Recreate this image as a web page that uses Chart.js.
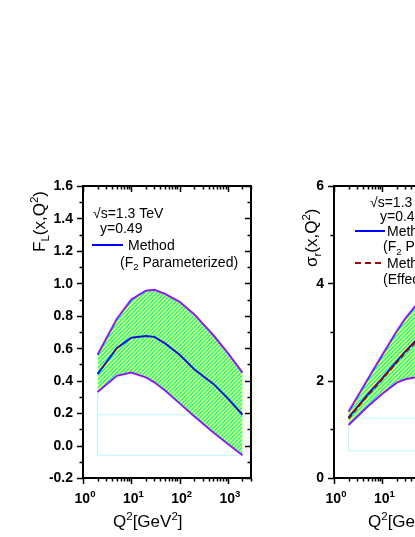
<!DOCTYPE html>
<html>
<head>
<meta charset="utf-8">
<script src="https://cdn.jsdelivr.net/npm/chart.js@4/dist/chart.umd.min.js"></script>
<style>
  html, body { margin: 0; padding: 0; background: #fff; }
  body { width: 415px; height: 537px; overflow: hidden; position: relative; }
  canvas { position: absolute; }
</style>
</head>
<body>
<canvas id="graficaFL" width="275" height="367" style="left:0px;top:170px;width:275px;height:367px"></canvas>
<canvas id="graficaSR" width="300" height="367" style="left:255px;top:170px;width:300px;height:367px"></canvas>
<script>
// Datos del panel izquierdo: F_L(x,Q^2)
const q2Izq = [2, 5, 10, 20, 30, 50, 100, 200, 500, 1000, 2000];
const flSuperior = [0.56, 0.78, 0.90, 0.955, 0.96, 0.935, 0.886, 0.81, 0.68, 0.57, 0.45];
const flCentral = [0.44, 0.60, 0.665, 0.675, 0.67, 0.63, 0.56, 0.47, 0.38, 0.29, 0.19];
const flInferior = [0.33, 0.43, 0.45, 0.42, 0.39, 0.34, 0.26, 0.18, 0.08, 0.01, -0.06];
const flMarcoArriba = 0.19;
const flMarcoAbajo = -0.06;

// Datos del panel derecho: sigma_r(x,Q^2)
const q2Der = [2, 5, 10, 20, 30, 50, 100];
const srSuperior = [1.36, 2.03, 2.53, 3.02, 3.28, 3.55, 3.95];
const srCentral = [1.24, 1.72, 2.05, 2.40, 2.60, 2.83, 3.05];
const srEfectivo = [1.22, 1.70, 2.03, 2.38, 2.58, 2.80, 3.00];
const srInferior = [1.09, 1.47, 1.73, 1.96, 2.03, 2.07, 2.05];
const srMarcoArriba = 1.23;
const srMarcoAbajo = 0.56;

// Ejes
const xMayores = [1, 10, 100, 1000];
const xExponentes = ['0', '1', '2', '3'];
const yIzqMayores = [-0.2, 0, 0.2, 0.4, 0.6, 0.8, 1.0, 1.2, 1.4, 1.6];
const yIzqMenores = [-0.1, 0.1, 0.3, 0.5, 0.7, 0.9, 1.1, 1.3, 1.5];
const yDerMayores = [0, 2, 4, 6];
const yDerMenores = [1, 3, 5];

const FAMILIA = 'Arial, "Liberation Sans", sans-serif';
const MORADO = '#8c1cf2';
const AZUL = '#1212d8';
const ROJO = '#9a0a0a';
const CIAN_PALIDO = '#bff7ff';

function puntos(xs, ys) {
    return xs.map((x, i) => ({ x, y: ys[i] }));
}

function rayado() {
    const c = document.createElement('canvas');
    c.width = 4; c.height = 4;
    const g = c.getContext('2d');
    for (let i = 0; i < 4; i++) {
        for (let j = 0; j < 4; j++) {
            g.fillStyle = ((i + j) % 4 < 2) ? '#ffff00' : '#00ffff';
            g.fillRect(i, j, 1, 1);
        }
    }
    return g.createPattern(c, 'repeat');
}

// Texto con subindices y superindices
function textoRico(ctx, partes, x, y, tam, negrita, alinear) {
    const fuente = s => `${negrita ? 'bold ' : ''}${s}px ${FAMILIA}`;
    let ancho = 0;
    partes.forEach(([t, k]) => {
        ctx.font = fuente(k ? tam * 0.68 : tam);
        ancho += ctx.measureText(t).width;
    });
    let cx = alinear === 'center' ? x - ancho / 2 : alinear === 'right' ? x - ancho : x;
    ctx.textAlign = 'left';
    ctx.textBaseline = 'alphabetic';
    partes.forEach(([t, k]) => {
        ctx.font = fuente(k ? tam * 0.68 : tam);
        const dy = k === 'sup' ? -tam * 0.4 : k === 'sub' ? tam * 0.25 : 0;
        ctx.fillText(t, cx, y + dy);
        cx += ctx.measureText(t).width;
    });
}

// Marco, marcas, etiquetas, titulos y leyenda
const marco = {
    id: 'marco',
    afterDraw(chart, _args, op) {
        const { ctx, chartArea: a } = chart;
        const x = chart.scales.x, y = chart.scales.y;
        ctx.save();
        ctx.strokeStyle = '#000';
        ctx.fillStyle = '#000';
        ctx.lineWidth = 1.5;
        ctx.beginPath();
        xMayores.forEach(d => {
            for (let k = 1; k <= 9; k++) {
                const v = d * k;
                if (v > x.max) continue;
                const px = Math.round(x.getPixelForValue(v)) + 0.5;
                const mayor = k === 1;
                ctx.moveTo(px, a.bottom); ctx.lineTo(px, a.bottom + (mayor ? 6 : 3.5));
                ctx.moveTo(px, a.top); ctx.lineTo(px, a.top + (mayor ? 6 : 3.5));
            }
        });
        op.yMayores.concat(op.yMenores).forEach(v => {
            const py = Math.round(y.getPixelForValue(v)) + 0.5;
            const l = op.yMayores.includes(v) ? 6 : 3.5;
            ctx.moveTo(a.left, py); ctx.lineTo(a.left - l, py);
            ctx.moveTo(a.right, py); ctx.lineTo(a.right - l, py);
        });
        ctx.stroke();
        ctx.lineWidth = 2;
        ctx.strokeRect(a.left, a.top, a.right - a.left, a.bottom - a.top);

        // Etiquetas del eje y
        ctx.font = `bold 14px ${FAMILIA}`;
        ctx.textAlign = 'right';
        ctx.textBaseline = 'middle';
        op.yMayores.forEach(v => {
            ctx.fillText(v.toFixed(op.decimales), a.left - 10, y.getPixelForValue(v) + 0.5);
        });
        // Etiquetas del eje x
        xMayores.forEach((v, i) => {
            textoRico(ctx, [['10', ''], [xExponentes[i], 'sup']], x.getPixelForValue(v) + 2, a.bottom + 25, 14, true, 'center');
        });
        // Titulos
        textoRico(ctx, [['Q', ''], ['2', 'sup'], ['[GeV', ''], ['2', 'sup'], [']', '']], a.left + op.tituloX, a.bottom + 49, 17, false, 'left');
        ctx.save();
        ctx.translate(a.left - op.tituloY[0], a.top + op.tituloY[1]);
        ctx.rotate(-Math.PI / 2);
        textoRico(ctx, op.partesY, 0, 0, 17, false, 'left');
        ctx.restore();

        // Leyenda
        op.leyenda.forEach(it => {
            if (it.linea) {
                ctx.strokeStyle = it.linea;
                ctx.lineWidth = 2;
                ctx.setLineDash(it.guion || []);
                ctx.beginPath();
                ctx.moveTo(a.left + it.x1, a.top + it.dy);
                ctx.lineTo(a.left + it.x2, a.top + it.dy);
                ctx.stroke();
                ctx.setLineDash([]);
            } else {
                ctx.fillStyle = '#000';
                textoRico(ctx, it.partes, a.left + it.dx, a.top + it.dy, 14, false, 'left');
            }
        });
        ctx.restore();
    }
};

function linea(datos, color, extra) {
    return Object.assign({
        data: datos,
        borderColor: color,
        borderWidth: 2,
        pointRadius: 0,
        tension: 0,
        fill: false
    }, extra);
}

function crearGrafica(id, cfg) {
    const ds = [];
    // 0 superior (con relleno hacia 1), 1 inferior, luego centrales y marco
    ds.push(linea(puntos(cfg.q2, cfg.superior), MORADO, { fill: 1, backgroundColor: rayado(), order: 5 }));
    ds.push(linea(puntos(cfg.q2, cfg.inferior), MORADO, { order: 4 }));
    ds.push(linea(puntos(cfg.q2, cfg.central), AZUL, { order: 2 }));
    if (cfg.efectivo) {
        ds.push(linea(puntos(cfg.q2, cfg.efectivo), ROJO, { borderDash: [5, 3], order: 1 }));
    }
    const q0 = cfg.q2[0], qf = 2000;
    ds.push(linea([{ x: q0, y: cfg.marco[0] }, { x: qf, y: cfg.marco[0] }], CIAN_PALIDO, { borderWidth: 1, order: 9 }));
    ds.push(linea([{ x: q0, y: cfg.inferior[0] }, { x: q0, y: cfg.marco[1] }, { x: qf, y: cfg.marco[1] }], CIAN_PALIDO, { borderWidth: 1, order: 9 }));

    return new Chart(document.getElementById(id), {
        type: 'line',
        data: { datasets: ds },
        plugins: [marco],
        options: {
            responsive: false,
            animation: false,
            devicePixelRatio: 1,
            layout: { padding: cfg.relleno },
            scales: {
                x: { type: 'logarithmic', min: 1, max: 3000, display: false },
                y: { type: 'linear', min: cfg.yMin, max: cfg.yMax, display: false }
            },
            plugins: {
                legend: { display: false },
                tooltip: { enabled: false },
                marco: cfg.marcoOp
            }
        }
    });
}

crearGrafica('graficaFL', {
    q2: q2Izq, superior: flSuperior, inferior: flInferior, central: flCentral,
    marco: [flMarcoArriba, flMarcoAbajo],
    yMin: -0.2, yMax: 1.6,
    relleno: { left: 83, top: 16, right: 24, bottom: 59 },
    marcoOp: {
        yMayores: yIzqMayores, yMenores: yIzqMenores, decimales: 1,
        tituloX: 30, tituloY: [38, 66],
        partesY: [['F', ''], ['L', 'sub'], ['(x,Q', ''], ['2', 'sup'], [')', '']],
        leyenda: [
            { partes: [['\u221As=1.3 TeV', '']], dx: 10, dy: 31.5 },
            { partes: [['y=0.49', '']], dx: 17, dy: 47 },
            { linea: '#0000ff', x1: 9, x2: 40, dy: 59 },
            { partes: [['Method', '']], dx: 45, dy: 64 },
            { partes: [['(F', ''], ['2', 'sub'], [' Parameterized)', '']], dx: 37, dy: 80.5 }
        ]
    }
});

crearGrafica('graficaSR', {
    q2: q2Der, superior: srSuperior, inferior: srInferior, central: srCentral, efectivo: srEfectivo,
    marco: [srMarcoArriba, srMarcoAbajo],
    yMin: 0, yMax: 6,
    relleno: { left: 79, top: 16, right: 53, bottom: 59 },
    marcoOp: {
        yMayores: yDerMayores, yMenores: yDerMenores, decimales: 0,
        tituloX: 34, tituloY: [17, 81],
        partesY: [['\u03C3', ''], ['r', 'sub'], ['(x,Q', ''], ['2', 'sup'], [')', '']],
        leyenda: [
            { partes: [['\u221As=1.3 TeV', '']], dx: 36, dy: 20.5 },
            { partes: [['y=0.49', '']], dx: 46, dy: 34.5 },
            { linea: '#0000ff', x1: 21, x2: 51, dy: 45 },
            { partes: [['Method', '']], dx: 53, dy: 50 },
            { partes: [['(F', ''], ['2', 'sub'], [' Parameterized)', '']], dx: 49, dy: 65 },
            { linea: ROJO, guion: [6, 4], x1: 21, x2: 51, dy: 77 },
            { partes: [['Method', '']], dx: 53, dy: 82 },
            { partes: [['(Effective)', '']], dx: 49, dy: 98 }
        ]
    }
});
</script>
</body>
</html>
